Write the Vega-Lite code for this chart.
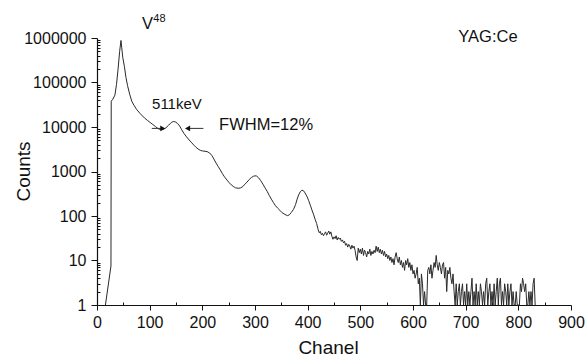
{
  "$schema": "https://vega.github.io/schema/vega-lite/v6.json",
  "width": 474,
  "height": 267,
  "autosize": "none",
  "padding": {"left": 97, "top": 38, "right": 14, "bottom": 51},
  "background": "white",
  "config": {
    "view": {"stroke": null},
    "font": "Liberation Sans",
    "axis": {"domainColor": "#111", "tickColor": "#111", "labelColor": "#111", "titleColor": "#111", "domainWidth": 1.2, "tickWidth": 1, "grid": false, "labelFont": "Liberation Sans", "titleFont": "Liberation Sans", "labelFontSize": 16, "titleFontSize": 19, "titleFontWeight": "normal"}
  },
  "datasets": {
    "spectrum": [
      {"ch":16,"counts":1},{"ch":26.5,"counts":7.5},{"ch":27,"counts":38000},{"ch":30,"counts":42000},{"ch":34,"counts":52000},{"ch":37,"counts":90000},{"ch":40,"counts":200000},{"ch":43,"counts":500000},{"ch":45.5,"counts":880000},{"ch":47,"counts":600000},{"ch":49,"counts":360000},{"ch":52,"counts":230000},{"ch":55,"counts":130000},{"ch":58,"counts":85000},{"ch":62,"counts":55000},{"ch":66,"counts":38000},{"ch":70,"counts":31000},{"ch":75,"counts":25000},{"ch":82,"counts":20000},{"ch":90,"counts":16000},{"ch":96,"counts":14000},{"ch":101,"counts":12600},{"ch":106,"counts":11400},{"ch":111,"counts":10200},{"ch":116,"counts":9200},{"ch":121,"counts":8700},{"ch":126,"counts":8900},{"ch":131,"counts":9600},{"ch":136,"counts":11000},{"ch":141,"counts":12600},{"ch":145,"counts":13300},{"ch":149,"counts":13000},{"ch":153,"counts":12000},{"ch":157,"counts":10500},{"ch":161,"counts":8600},{"ch":165,"counts":7200},{"ch":170,"counts":6000},{"ch":175,"counts":5100},{"ch":180,"counts":4400},{"ch":184,"counts":3900},{"ch":188,"counts":3500},{"ch":192,"counts":3200},{"ch":196,"counts":3000},{"ch":200,"counts":2900},{"ch":205,"counts":2850},{"ch":209,"counts":2800},{"ch":214,"counts":2600},{"ch":218,"counts":2300},{"ch":222,"counts":1900},{"ch":226,"counts":1550},{"ch":230,"counts":1300},{"ch":234,"counts":1090},{"ch":238,"counts":900},{"ch":242,"counts":760},{"ch":247,"counts":640},{"ch":251,"counts":560},{"ch":255,"counts":500},{"ch":259,"counts":460},{"ch":263,"counts":430},{"ch":268,"counts":420},{"ch":272,"counts":425},{"ch":277,"counts":460},{"ch":281,"counts":520},{"ch":285,"counts":580},{"ch":289,"counts":660},{"ch":293,"counts":730},{"ch":297,"counts":780},{"ch":300,"counts":800},{"ch":303,"counts":790},{"ch":307,"counts":720},{"ch":311,"counts":620},{"ch":315,"counts":520},{"ch":319,"counts":430},{"ch":323,"counts":360},{"ch":327,"counts":290},{"ch":331,"counts":240},{"ch":335,"counts":200},{"ch":339,"counts":170},{"ch":343,"counts":150},{"ch":347,"counts":135},{"ch":351,"counts":120},{"ch":355,"counts":112},{"ch":359,"counts":105},{"ch":362,"counts":102},{"ch":365,"counts":106},{"ch":369,"counts":120},{"ch":373,"counts":140},{"ch":377,"counts":180},{"ch":380,"counts":240},{"ch":383,"counts":300},{"ch":386,"counts":350},{"ch":389,"counts":380},{"ch":392,"counts":370},{"ch":395,"counts":330},{"ch":399,"counts":270},{"ch":402,"counts":220},{"ch":405,"counts":175},{"ch":408,"counts":137},{"ch":411,"counts":110},{"ch":414,"counts":85},{"ch":417,"counts":68},
      {"ch":420,"counts":49},{"ch":422,"counts":42},{"ch":424,"counts":45},{"ch":426,"counts":38},{"ch":428,"counts":41},{"ch":430,"counts":36},{"ch":432,"counts":40},{"ch":434,"counts":44},{"ch":436,"counts":37},{"ch":438,"counts":41},{"ch":440,"counts":46},{"ch":442,"counts":39},{"ch":444,"counts":44},{"ch":446,"counts":35},{"ch":448,"counts":30},{"ch":450,"counts":34},{"ch":452,"counts":31},{"ch":454,"counts":36},{"ch":456,"counts":29},{"ch":458,"counts":33},{"ch":460,"counts":30},{"ch":462,"counts":32},{"ch":464,"counts":27},{"ch":466,"counts":29},{"ch":468,"counts":25},{"ch":470,"counts":27},{"ch":472,"counts":22},{"ch":474,"counts":24},{"ch":476,"counts":20},{"ch":478,"counts":23},{"ch":480,"counts":21},{"ch":482,"counts":18},{"ch":484,"counts":22},{"ch":486,"counts":19},{"ch":488,"counts":21},{"ch":490,"counts":17},{"ch":492,"counts":12},{"ch":494,"counts":10},{"ch":496,"counts":19},{"ch":498,"counts":15},{"ch":500,"counts":18},
      {"ch":502,"counts":14},{"ch":504,"counts":19},{"ch":506,"counts":13},{"ch":508,"counts":17},{"ch":510,"counts":15},{"ch":512,"counts":12},{"ch":514,"counts":16},{"ch":516,"counts":14},{"ch":518,"counts":18},{"ch":520,"counts":13},{"ch":522,"counts":16},{"ch":524,"counts":14},{"ch":526,"counts":17},{"ch":528,"counts":15},{"ch":530,"counts":21},{"ch":532,"counts":16},{"ch":534,"counts":20},{"ch":536,"counts":15},{"ch":538,"counts":18},{"ch":540,"counts":14},{"ch":542,"counts":17},{"ch":544,"counts":13},{"ch":546,"counts":16},{"ch":548,"counts":12},{"ch":550,"counts":14},{"ch":552,"counts":11},{"ch":554,"counts":13},{"ch":556,"counts":10},{"ch":558,"counts":12},{"ch":560,"counts":9},{"ch":562,"counts":11},{"ch":564,"counts":8},{"ch":566,"counts":12},{"ch":568,"counts":15},{"ch":570,"counts":11},{"ch":572,"counts":9},{"ch":574,"counts":12},{"ch":576,"counts":8},{"ch":578,"counts":10},{"ch":580,"counts":7},{"ch":582,"counts":9},{"ch":584,"counts":6},{"ch":586,"counts":10},{"ch":588,"counts":8},{"ch":590,"counts":11},{"ch":592,"counts":7},{"ch":594,"counts":9},{"ch":596,"counts":6},{"ch":598,"counts":8},{"ch":600,"counts":5},
      {"ch":602,"counts":6},{"ch":604,"counts":4},{"ch":606,"counts":5},{"ch":608,"counts":7},{"ch":610,"counts":3},{"ch":612,"counts":4},{"ch":614,"counts":1},{"ch":616,"counts":5},{"ch":618,"counts":3},{"ch":620,"counts":1},{"ch":622,"counts":2},{"ch":624,"counts":1},{"ch":626,"counts":1},{"ch":628,"counts":6},{"ch":630,"counts":7},{"ch":632,"counts":5},{"ch":634,"counts":8},{"ch":636,"counts":4},{"ch":638,"counts":6},{"ch":640,"counts":9},{"ch":642,"counts":7},{"ch":644,"counts":13},{"ch":646,"counts":8},{"ch":648,"counts":6},{"ch":650,"counts":9},{"ch":652,"counts":7},{"ch":654,"counts":5},{"ch":656,"counts":8},{"ch":658,"counts":9},{"ch":660,"counts":4},{"ch":662,"counts":7},{"ch":664,"counts":2},{"ch":666,"counts":6},{"ch":668,"counts":5},{"ch":670,"counts":7},{"ch":672,"counts":4},{"ch":674,"counts":3},{"ch":676,"counts":5},{"ch":678,"counts":2},{"ch":680,"counts":1},
      {"ch":682,"counts":3},{"ch":684,"counts":1},{"ch":686,"counts":2},{"ch":688,"counts":3},{"ch":690,"counts":1},{"ch":692,"counts":2},{"ch":694,"counts":3},{"ch":696,"counts":1},{"ch":698,"counts":2},{"ch":700,"counts":1},{"ch":702,"counts":3},{"ch":704,"counts":1},{"ch":706,"counts":2},{"ch":708,"counts":1},{"ch":710,"counts":2},{"ch":712,"counts":4},{"ch":714,"counts":1},{"ch":716,"counts":2},{"ch":718,"counts":1},{"ch":720,"counts":3},{"ch":722,"counts":1},{"ch":724,"counts":2},{"ch":726,"counts":1},{"ch":728,"counts":3},{"ch":730,"counts":2},{"ch":732,"counts":1},{"ch":734,"counts":2},{"ch":736,"counts":1},{"ch":738,"counts":3},{"ch":740,"counts":4},{"ch":742,"counts":1},{"ch":744,"counts":2},{"ch":746,"counts":3},{"ch":748,"counts":1},{"ch":750,"counts":2},{"ch":752,"counts":1},{"ch":754,"counts":3},{"ch":756,"counts":1},{"ch":758,"counts":2},{"ch":760,"counts":4},{"ch":762,"counts":1},{"ch":764,"counts":3},{"ch":766,"counts":4},{"ch":768,"counts":1},{"ch":770,"counts":2},{"ch":772,"counts":1},{"ch":774,"counts":3},{"ch":776,"counts":2},{"ch":778,"counts":1},{"ch":780,"counts":3},{"ch":782,"counts":1},{"ch":784,"counts":2},{"ch":786,"counts":3},{"ch":788,"counts":1},{"ch":790,"counts":2},{"ch":792,"counts":1},{"ch":794,"counts":1},{"ch":796,"counts":2},{"ch":798,"counts":1},{"ch":800,"counts":1},{"ch":802,"counts":1},{"ch":804,"counts":3},{"ch":806,"counts":2},{"ch":808,"counts":4},{"ch":810,"counts":3},{"ch":812,"counts":2},{"ch":814,"counts":3},{"ch":816,"counts":1},{"ch":818,"counts":1},{"ch":820,"counts":2},{"ch":822,"counts":1},{"ch":824,"counts":2},{"ch":826,"counts":1},{"ch":828,"counts":3},{"ch":830,"counts":4},{"ch":832,"counts":1}
    ],
    "arrows": [
      {"ch":104,"ch2":126,"counts":9300},
      {"ch":170,"ch2":202,"counts":9300}
    ],
    "heads": [
      {"ch":125,"counts":9300,"shape":"triangle-right"},
      {"ch":172,"counts":9300,"shape":"triangle-left"}
    ],
    "labels": [
      {"ch":85.4,"counts":1580000,"text":"V","size":16.5},
      {"ch":106.9,"counts":2300000,"text":"48","size":11},
      {"ch":104.5,"counts":25000,"text":"511keV","size":15},
      {"ch":231.8,"counts":8560,"text":"FWHM=12%","size":16.5},
      {"ch":686,"counts":810000,"text":"YAG:Ce","size":16.5}
    ]
  },
  "encoding": {
    "x": {
      "field": "ch", "type": "quantitative",
      "scale": {"domain": [0, 900], "nice": false, "zero": false},
      "axis": {
        "title": "Chanel",
        "values": [0,50,100,150,200,250,300,350,400,450,500,550,600,650,700,750,800,850,900],
        "labelExpr": "datum.value % 100 == 0 ? datum.label : ''",
        "tickSize": {"condition": {"test": "datum.value % 100 == 0", "value": 5}, "value": -3},
        "labelPadding": 4,
        "titleX": 231, "titleY": 48, "titleBaseline": "alphabetic",
        "labelFlush": false, "labelOverlap": false
      }
    },
    "y": {
      "field": "counts", "type": "quantitative",
      "scale": {"type": "log", "domain": [1, 1000000], "nice": false},
      "axis": {
        "title": "Counts",
        "values": [1,2,3,4,5,6,7,8,9,10,20,30,40,50,60,70,80,90,100,200,300,400,500,600,700,800,900,1000,2000,3000,4000,5000,6000,7000,8000,9000,10000,20000,30000,40000,50000,60000,70000,80000,90000,100000,200000,300000,400000,500000,600000,700000,800000,900000,1000000],
        "labelExpr": "indexof([1,10,100,1000,10000,100000,1000000], datum.value) >= 0 ? format(datum.value, 'd') : ''",
        "tickSize": {"condition": {"test": "indexof([1,10,100,1000,10000,100000,1000000], datum.value) >= 0", "value": 6}, "value": -3},
        "labelPadding": 5,
        "labelOverlap": false,
        "labelFlush": false,
        "titleX": -74, "titleY": 133, "titleBaseline": "middle", "titleAlign": "center"
      }
    }
  },
  "layer": [
    {
      "data": {"name": "spectrum"},
      "mark": {"type": "line", "color": "#2a2a2a", "strokeWidth": 1, "interpolate": "linear"}
    },
    {
      "data": {"name": "arrows"},
      "mark": {"type": "rule", "color": "#333", "strokeWidth": 1},
      "encoding": {"x2": {"field": "ch2"}}
    },
    {
      "data": {"name": "heads"},
      "mark": {"type": "point", "filled": true, "color": "#111", "size": 35, "opacity": 1},
      "encoding": {"shape": {"field": "shape", "type": "nominal", "scale": null}}
    },
    {
      "data": {"name": "labels"},
      "mark": {"type": "text", "align": "left", "baseline": "alphabetic", "color": "#111", "font": "Liberation Sans"},
      "encoding": {
        "text": {"field": "text"},
        "size": {"field": "size", "type": "quantitative", "scale": null}
      }
    }
  ]
}
